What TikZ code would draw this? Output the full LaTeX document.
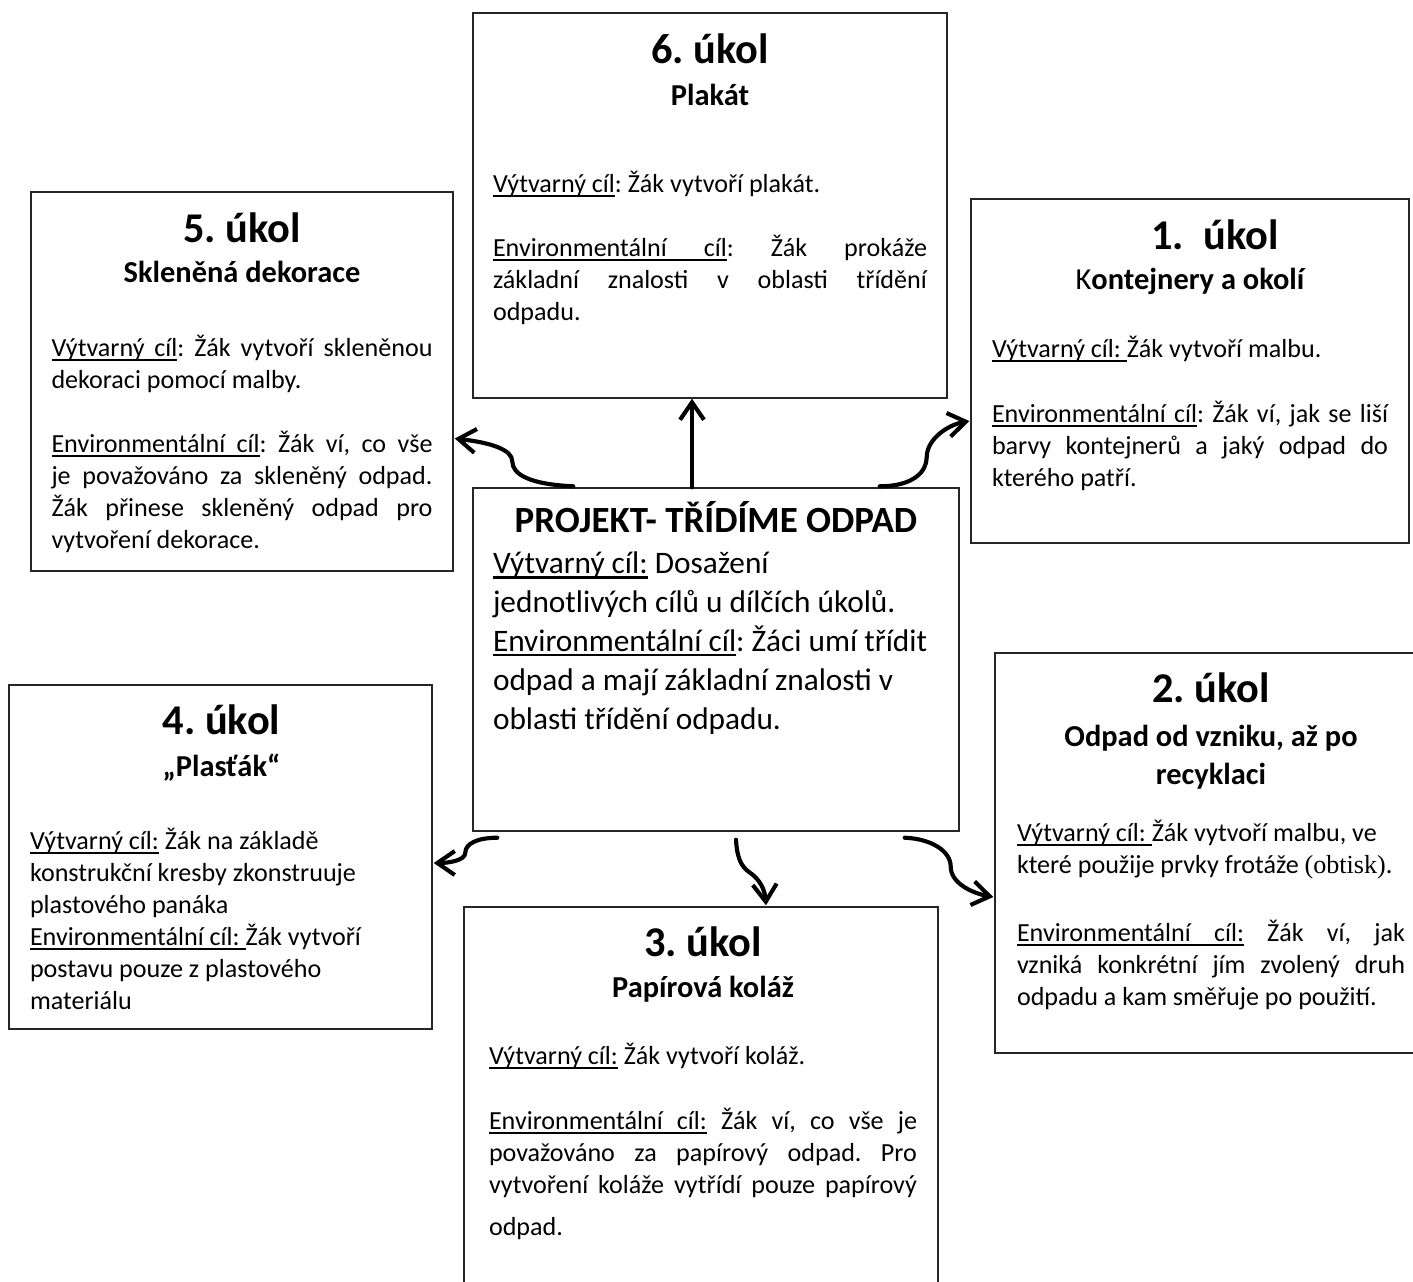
\documentclass[tikz,border=0pt]{standalone}
\usepackage{fontspec}
\setmainfont{Carlito}
\newfontfamily\tnr{Liberation Serif}
\usetikzlibrary{calc, arrows.meta}
\setlength{\parindent}{0pt}
\frenchspacing

\newdimen\pxu \pxu=0.46pt
\newcommand{\gapto}[1]{\vspace{\dimexpr #1\pxu-\baselineskip\relax}}
\newcommand{\ttlf}{\bfseries\fontsize{19.5}{23.4}\selectfont}
\newcommand{\subf}{\bfseries\fontsize{14}{17}\selectfont}
\newcommand{\bodyf}{\normalfont\fontsize{12}{14.7}\selectfont}
\newcommand{\projf}{\normalfont\fontsize{14.4}{17.9}\selectfont}
% podtržení slova a mezery
\newcommand{\ulw}[1]{\leavevmode\setbox0\hbox{#1}\rlap{\vrule height -0.1em depth 0.17em width \wd0}\box0\relax}
\newcommand{\ulsp}{\leavevmode\leaders\vrule height -0.1em depth 0.17em\hskip\fontdimen2\font plus\fontdimen3\font minus\fontdimen4\font\relax}
\newcommand{\vyt}{\ulw{Výtvarný}\ulsp\ulw{cíl}}
\newcommand{\env}{\ulw{Environmentální}\ulsp\ulw{cíl}}

\tikzset{
  ram/.style 2 args={draw=black!85, line width=0.65pt, minimum width=#1*\pxu,
    minimum height=#2*\pxu, inner sep=0pt},
  txt/.style={anchor=north, inner sep=0pt, text width=#1*\pxu, align=justify, font=\bodyf},
  arr/.style={line width=1.9pt, line cap=round, -{Straight Barb[length=8pt, width=11pt]}}
}

\begin{document}
\begin{tikzpicture}[x=0.46pt, y=-0.46pt]
  \useasboundingbox (0,0) rectangle (1413,1281);

  % rámečky úkolů
  \node[ram={474}{385}] (t6) at (710,205.5) {};
  \node[ram={422}{379}] (t5) at (242,381.5) {};
  \node[ram={438}{344}] (t1) at (1190,371) {};
  \node[ram={486}{343}] (proj) at (716,659.5) {};
  \node[ram={423}{344}] (t4) at (220.5,857) {};
  \node[ram={432}{400}] (t2) at (1211,853) {};
  \node[ram={474}{413}] (t3) at (701,1113.5) {};

  \node[txt=434] (t6txt) at ($(t6.north)+(0,12)$) {%
    \begingroup\centering\ttlf\rule{0pt}{18pt}6. úkol\par\subf\gapto{42}Plakát\par\endgroup
    \gapto{87}\vyt: Žák vytvoří plakát.\par
    \gapto{64}\env: Žák prokáže\linebreak základní znalosti v oblasti třídění\linebreak odpadu.};

  \node[txt=381] (t5txt) at ($(t5.north)+(0,12)$) {%
    \begingroup\centering\ttlf\rule{0pt}{18pt}5. úkol\par\subf\gapto{40}Skleněná dekorace\par\endgroup
    \gapto{74}\vyt: Žák vytvoří skleněnou\linebreak dekoraci pomocí malby.\par
    \gapto{64}\env: Žák ví, co vše\linebreak je považováno za skleněný odpad.\linebreak
    Žák přinese skleněný odpad pro\linebreak vytvoření dekorace.};

  \node[txt=396] (t1txt) at ($(t1.north)+(0,12)$) {%
    \begingroup\centering\ttlf\rule{0pt}{18pt}\hspace*{23pt}1.\ \ úkol\par
    \subf\gapto{40}{\mdseries K}ontejnery a okolí\par\endgroup
    \gapto{68}\vyt\ulw{:}\ulsp Žák vytvoří malbu.\par
    \gapto{65}\env: Žák ví, jak se liší\linebreak barvy kontejnerů a jaký odpad do\linebreak kterého patří.};

  \node[txt=383, align=flush left] (t4txt) at ($(t4.north)+(1,11)$) {%
    \begingroup\centering\ttlf\rule{0pt}{18pt}4. úkol\par\subf\gapto{42}„Plasťák“\par\endgroup
    \gapto{73}\vyt\ulw{:} Žák na základě\par konstrukční kresby zkonstruuje\par
    plastového panáka\par \env\ulw{:}\ulsp Žák vytvoří\par
    postavu pouze z plastového\par materiálu};

  \node[txt=388] (t2txt) at ($(t2.north)+(0,11)$) {%
    \begingroup\centering\ttlf\rule{0pt}{18pt}2. úkol\par
    \subf\gapto{44}Odpad od vzniku, až po\par\gapto{38}recyklaci\par\endgroup
    \gapto{57}\vyt\ulw{:}\ulsp Žák vytvoří malbu, ve\par které použije prvky frotáže {\tnr(obtisk)}.\par
    \gapto{68}\env\ulw{:} Žák ví, jak\linebreak vzniká konkrétní jím zvolený druh\linebreak
    odpadu a kam směřuje po použití.};

  \node[txt=428] (t3txt) at ($(t3.north)+(2,11)$) {%
    \begingroup\centering\ttlf\rule{0pt}{18pt}3. úkol\par\subf\gapto{41}Papírová koláž\par\endgroup
    \gapto{67}\vyt\ulw{:} Žák vytvoří koláž.\par
    \gapto{65}\env\ulw{:} Žák ví, co vše je\linebreak považováno za papírový odpad. Pro\linebreak
    vytvoření koláže vytřídí pouze papírový\vadjust{\vskip 4.5pt}\linebreak odpad.};

  \node[txt=462, align=flush left, font=\projf] (projtxt) at ($(proj.north)+(8,12)$) {%
    \begingroup\centering\bfseries\fontsize{17}{20}\selectfont\rule{0pt}{15pt}\hspace*{-16\pxu}PROJEKT- TŘÍDÍME ODPAD\par\endgroup
    \gapto{41}\vyt\ulw{:} Dosažení\par jednotlivých cílů u dílčích úkolů.\par
    \env: Žáci umí třídit\par odpad a mají základní znalosti v\par
    oblasti třídění odpadu.};

  % šipky
  \draw[arr] ($(proj.north)+(-24,0)$) -- ($(t6.south)+(-18,0)$);
  \draw[arr] ($(proj.north west)+(101,-1)$) .. controls +(-44,-2) and +(0,13) .. ($(proj.north west)+(40,-26)$)
    .. controls +(0,-12) and +(35,4) .. ($(t5.east)+(1,57)$);
  \draw[arr] ($(proj.north east)+(-80,-1)$) .. controls +(34,0) and +(0,14) .. ($(proj.north east)+(-33,-30)$)
    .. controls +(0,-18) and +(-22,4) .. ($(t1.west)+(-1,50)$);
  \draw[arr] ($(proj.south west)+(25,6)$) .. controls +(-20,0) and +(0,-9) .. ($(proj.south west)+(-7,21)$)
    .. controls +(0,8) and +(14,0) .. ($(t4.east)+(1,6)$);
  \draw[arr] ($(proj.south)+(20,8)$) .. controls +(1,18) and +(-9,-6) .. ($(proj.south)+(34,41)$)
    .. controls +(9,6) and +(-1,-16) .. ($(t3.north)+(65,-1)$);
  \draw[arr] ($(proj.south east)+(-55,6)$) .. controls +(26,1) and +(0,-16) .. ($(proj.south east)+(-9,35)$)
    .. controls +(0,16) and +(-22,-4) .. ($(t2.west)+(-1,44)$);
\end{tikzpicture}
\end{document}
